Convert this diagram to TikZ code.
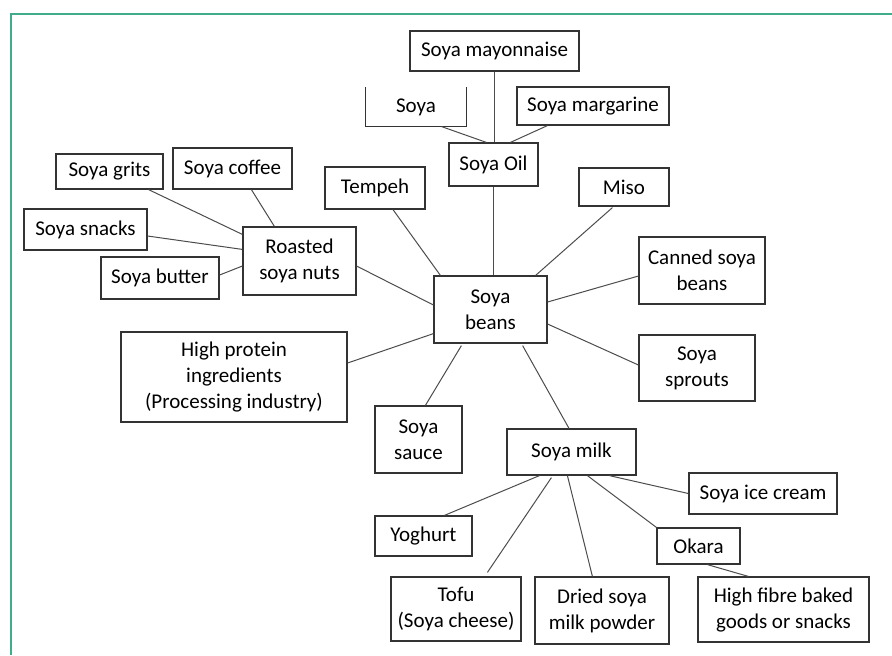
\documentclass[tikz,border=0pt]{standalone}
\usepackage{fontspec}
\setmainfont{Carlito}
\usetikzlibrary{calc}
\definecolor{framegreen}{RGB}{64,172,140}
\begin{document}
\begin{tikzpicture}[x=0.5pt,y=-0.5pt,
  box/.style={draw=black!80,line width=0.6pt,inner sep=0pt,align=center,
    font=\fontsize{10.5}{13}\selectfont},
  link/.style={draw=black!70,line width=0.5pt}]
\useasboundingbox (0,0) rectangle (892,655);
\draw[framegreen,line width=1pt] (892,13.5) -- (10.5,13.5) -- (10.5,655);
% oil branch
\node[box,minimum width=84.5pt,minimum height=20pt] (mayo) at (494.5,51) {Soya mayonnaise};
\node[box,draw=none,minimum width=50pt,minimum height=19pt] (soya) at (416,107) {Soya};
\draw[draw=black!80,line width=0.6pt] (soya.north west) -- (soya.south west) -- (soya.south east) -- (soya.north east);
\node[box,minimum width=76pt,minimum height=19pt] (marg) at (593,106) {Soya margarine};
\node[box,minimum width=44.5pt,minimum height=21.5pt] (oil) at (493.5,164.5) {Soya Oil};
% roasted branch
\node[box,minimum width=53.5pt,minimum height=17.5pt] (grits) at (109.5,171.5) {Soya grits};
\node[box,minimum width=59.5pt,minimum height=20.5pt] (coffee) at (232.5,168.5) {Soya coffee};
\node[box,minimum width=61.5pt,minimum height=20.5pt] (snacks) at (85.5,229.5) {Soya snacks};
\node[box,minimum width=59pt,minimum height=21pt] (butter) at (160,278) {Soya butter};
\node[box,minimum width=56.5pt,minimum height=34pt] (roasted) at (299.5,261) {Roasted\\soya nuts};
% around the beans
\node[box,minimum width=56.5pt,minimum height=33.5pt] (beans) at (490.5,309.5) {Soya\\beans};
\node[box,minimum width=50pt,minimum height=21pt] (tempeh) at (375,188) {Tempeh};
\node[box,minimum width=45pt,minimum height=19pt] (miso) at (624,187) {Miso};
\node[box,minimum width=63pt,minimum height=33.5pt] (canned) at (702,270.5) {Canned soya\\beans};
\node[box,minimum width=58pt,minimum height=33pt] (sprouts) at (697,368) {Soya\\sprouts};
\node[box,minimum width=113pt,minimum height=45pt] (protein) at (234,377) {High protein\\ingredients\\(Processing industry)};
\node[box,minimum width=43.5pt,minimum height=33.5pt] (sauce) at (418.5,439.5) {Soya\\sauce};
% milk branch
\node[box,minimum width=64.5pt,minimum height=23pt] (milk) at (571.5,452) {Soya milk};
\node[box,minimum width=74pt,minimum height=20.5pt] (icecream) at (763,493.5) {Soya ice cream};
\node[box,minimum width=48.5pt,minimum height=20pt] (yoghurt) at (423.5,536) {Yoghurt};
\node[box,minimum width=41.5pt,minimum height=18pt] (okara) at (698.5,546) {Okara};
\node[box,minimum width=65pt,minimum height=32pt] (tofu) at (456,609) {Tofu\\(Soya cheese)};
\node[box,minimum width=67pt,minimum height=33.5pt] (dried) at (602,610.5) {Dried soya\\milk powder};
\node[box,minimum width=85.5pt,minimum height=32.5pt] (fibre) at (783.5,609.5) {High fibre baked\\goods or snacks};
% links
\draw[link] (mayo.south) -- (mayo.south |- oil.north);
\draw[link] ($(soya.south east)+(-25,0)$) -- ($(oil.north west)+(38,0)$);
\draw[link] ($(marg.south west)+(31,0)$) -- ($(oil.north west)+(62,0)$);
\draw[link] (oil.south) -- (oil.south |- beans.north);
\draw[link] ($(grits.south east)+(-15,0)$) -- ($(roasted.north west)+(0,8)$);
\draw[link] ($(coffee.south west)+(79,0)$) -- ($(roasted.north west)+(32,0)$);
\draw[link] ($(snacks.east)+(0,6.5)$) -- ($(roasted.north west)+(0,23)$);
\draw[link] ($(butter.east)+(0,-3)$) -- ($(roasted.west)+(0,5)$);
\draw[link] ($(roasted.east)+(0,5)$) -- ($(beans.west)+(0,-4.5)$);
\draw[link] ($(tempeh.south)+(18,0)$) -- ($(beans.north west)+(7,0)$);
\draw[link] ($(protein.east)+(0,-14)$) -- ($(beans.south west)+(0,-10)$);
\draw[link] ($(sauce.north west)+(51,0)$) -- ($(beans.south west)+(28,2)$);
\draw[link] ($(miso.south west)+(34,1)$) -- ($(beans.north east)+(-12,0)$);
\draw[link] ($(canned.west)+(0,5.5)$) -- ($(beans.east)+(0,-7.5)$);
\draw[link] ($(sprouts.west)+(0,-3)$) -- ($(beans.east)+(0,14.5)$);
\draw[link] ($(beans.south east)+(-25,2)$) -- ($(milk.north)+(-2.5,0)$);
\draw[link] ($(milk.south west)+(33,0)$) -- ($(yoghurt.north west)+(70,0)$);
\draw[link] ($(milk.south west)+(45,2)$) -- ($(tofu.north west)+(97,-4)$);
\draw[link] ($(milk.south west)+(61,0)$) -- ($(dried.north west)+(58,0)$);
\draw[link] ($(milk.south west)+(81,0)$) -- (okara.north west);
\draw[link] ($(milk.south west)+(103,0)$) -- (icecream.west);
\draw[link] ($(okara.south west)+(51,0)$) -- ($(fibre.north west)+(51,0)$);
\end{tikzpicture}
\end{document}
